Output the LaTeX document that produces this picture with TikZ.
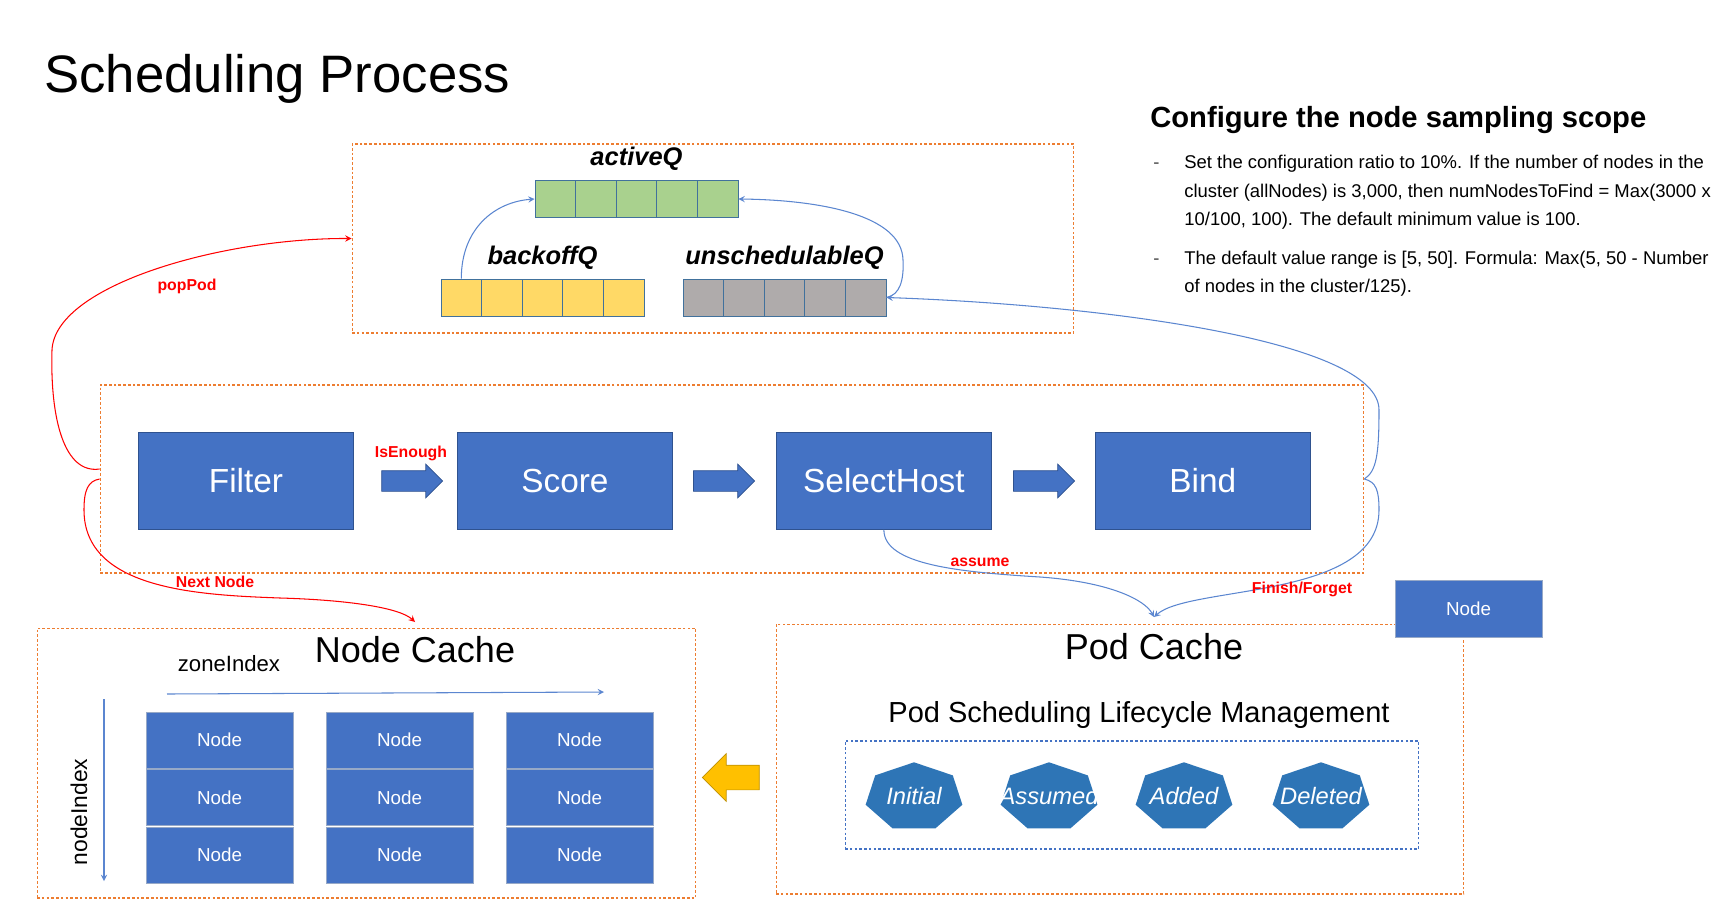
\documentclass[tikz,border=0pt]{standalone}
\usepackage{fontspec}
\setmainfont{Liberation Sans}
\usetikzlibrary{positioning,shapes.arrows}

\definecolor{boxblue}{HTML}{4472C4}
\definecolor{boxedge}{HTML}{2F528F}
\definecolor{heptblue}{HTML}{2E75B6}
\definecolor{dashor}{HTML}{ED7D31}
\definecolor{qgreen}{HTML}{A9D18E}
\definecolor{qyellow}{HTML}{FFD966}
\definecolor{qgrey}{HTML}{AFABAB}
\definecolor{qedge}{HTML}{41719C}
\definecolor{arrowyel}{HTML}{FFC000}
\definecolor{arrowedge}{HTML}{BF9000}
\definecolor{linkblue}{HTML}{5B86D0}

\begin{document}
\begin{tikzpicture}
	[x = 0.02cm, y = 0.02cm, >= stealth, node distance = 6.38cm, on grid,
	 stage/.style = {draw = boxedge, line width = 0.5pt, fill = boxblue, text = white,
		minimum width = 4.3cm, minimum height = 1.94cm, font = \fontsize{19}{23}\selectfont},
	 gridnode/.style = {draw = boxedge!50, line width = 0.5pt, fill = boxblue, text = white,
		minimum width = 2.94cm, minimum height = 1.12cm, font = \fontsize{10.7}{13}\selectfont},
	 cell/.style = {draw = qedge, line width = 0.5pt, minimum width = 0.812cm, minimum height = 0.74cm, inner sep = 0},
	 dashframe/.style = {draw = dashor, line width = 0.6pt, dash pattern = on 1.5pt off 1.2pt, inner sep = 0},
	 qlabel/.style = {font = \fontsize{14.5}{17}\selectfont\bfseries\itshape},
	 redlabel/.style = {text = red, font = \fontsize{9}{11}\selectfont\bfseries},
	 bigtitle/.style = {font = \fontsize{20.5}{24}\selectfont},
	 link/.style = {->, draw = linkblue, line width = 0.6pt},
	 redlink/.style = {->, draw = red, line width = 0.6pt},
	 blockarrow/.style = {single arrow, fill = boxblue, draw = boxedge, line width = 0.4pt, inner sep = 0.2cm,
		minimum height = 1.22cm, minimum width = 0.66cm, single arrow head extend = 0.13cm},
	 hept/.style = {fill = heptblue},
	 heptlbl/.style = {text = white, font = \fontsize{13.5}{16}\selectfont\itshape},
	 cfgtext/.style = {inner sep = 0, align = left, font = \fontsize{10.5}{16.2}\selectfont}]
\useasboundingbox (0,0) rectangle (1727,-906);

\node[inner sep = 0, font = \fontsize{30}{36}\selectfont](title)[anchor = base west] at (44,-92.5){Scheduling Process};

% queues
\node[dashframe, minimum width = 14.44cm, minimum height = 3.78cm](queues) at (713,-238.5){};
\foreach \i in {1,...,5} {
	\node[cell, fill = qgreen](aq_\i) at (535 + 40.6*\i - 20.3, -199){};
	\node[cell, fill = qyellow](bq_\i) at (441 + 40.6*\i - 20.3, -297.5){};
	\node[cell, fill = qgrey](uq_\i) at (683 + 40.6*\i - 20.3, -297.5){};
}
\node[qlabel](activeq)[above = 0.8cm of aq_3]{activeQ};
\node[qlabel](backoffq)[above = 0.79cm of bq_3]{backoffQ};
\node[qlabel](unschedq)[above = 0.79cm of uq_3]{unschedulableQ};

% scheduling flow
\node[dashframe, minimum width = 25.28cm, minimum height = 3.76cm](flow) at (732,-479){};
\node[stage](filter) at (246,-481){Filter};
\node[stage](score)[right = of filter]{Score};
\node[stage](select)[right = of score]{SelectHost};
\node[stage](bind)[right = of select]{Bind};
\node[blockarrow](a_1)[right = 3.22cm of filter]{};
\node[blockarrow](a_2)[right = 3.08cm of score]{};
\node[blockarrow](a_3)[right = 3.1cm of select]{};
\node[redlabel](isenough) at (411,-453){IsEnough};

% node cache
\node[dashframe, minimum width = 13.18cm, minimum height = 5.4cm](ncache) at (366.5,-763){};
\node[bigtitle](nctitle) at (415,-650){Node Cache};
\node[font = \fontsize{12.6}{15}\selectfont](zonelbl) at (229,-664){zoneIndex};
\node[font = \fontsize{13}{15}\selectfont, rotate = 90](nodelbl) at (79,-812){nodeIndex};
\foreach \c in {1,2,3}
	\foreach \r in {1,2,3}
		\node[gridnode](n_\c\r) at (219.5 + 180*\c - 180, -740 - 57.5*\r + 57.5){Node};
\coordinate (z_0) at (167,-694);
\coordinate (z_1) at (604,-692);
\coordinate (r_0) at (104,-699);
\coordinate (r_1) at (104,-881);
\draw[link] (z_0) -- (z_1);
\draw[link] (r_0) -- (r_1);

% pod cache
\node[dashframe, minimum width = 13.76cm, minimum height = 5.4cm](pcache) at (1120,-759){};
\node[bigtitle](pctitle) at (1154,-647){Pod Cache};
\node[font = \fontsize{16.5}{20}\selectfont](pslm) at (1139,-714.5){Pod Scheduling Lifecycle Management};
\node[draw = boxblue, line width = 0.6pt, dash pattern = on 1.5pt off 1.2pt, minimum width = 11.48cm, minimum height = 2.16cm](states) at (1132,-795){};
\foreach \x/\nm/\lbl in {914/s_1/Initial, 1049/s_2/Assumed, 1184/s_3/Added, 1321/s_4/Deleted} {
	\fill[hept, shift = {(\x,-797)}, xscale = 1.43] (90:34.7) \foreach \k in {1,...,6} { -- (90 + \k*360/7:34.7) } -- cycle;
	\node[heptlbl](\nm) at (\x,-796){\lbl};
}
\node[gridnode, minimum height = 1.14cm](node)[anchor = center] at (1468.5,-608.5){Node};
\node[blockarrow, fill = arrowyel, draw = arrowedge, shape border rotate = 180, inner sep = 0.24cm,
	minimum height = 1.14cm, minimum width = 0.94cm, single arrow head extend = 0.23cm](back) at (737,-777.5){};

% sampling scope text
\node[inner sep = 0, font = \fontsize{16.6}{20}\selectfont\bfseries](cfg)[anchor = base west] at (1150,-127.5){Configure the node sampling scope};
\node[cfgtext, text = black!70](dash_1)[anchor = base west] at (1153,-168.5){-};
\node[cfgtext](item_1)[anchor = base west] at (1184,-225.5){Set the configuration ratio to 10\%. If the number of nodes in the\\cluster (allNodes) is 3,000, then numNodesToFind = Max(3000 x\\10/100, 100). The default minimum value is 100.};
\node[cfgtext, text = black!70](dash_2)[anchor = base west] at (1153,-264){-};
\node[cfgtext](item_2)[anchor = base west] at (1184,-292.5){The default value range is [5, 50]. Formula: Max(5, 50 - Number\\of nodes in the cluster/125).};

% connectors
\coordinate (nc_in) at (415,-622);
\coordinate (pc_in) at (1154,-617);
\draw[link] (bq_1.north) .. controls +(0,50) and +(-40,-3) .. (aq_1.west);
\draw[link] (uq_5.east) .. controls (900,-295) and (904,-280) .. (903,-260)
	.. controls (902,-215) and (820,-200) .. (aq_5.east);
\draw[redlink] ([yshift = 0.2cm]flow.west) .. controls +(-35,-5) and (50,-420) .. (52,-350)
	.. controls (55,-285) and (222,-238) .. (queues.west);
\draw[redlink] (flow.west) .. controls (88,-481) and (84,-490) .. (84,-510)
	.. controls (84,-590) and (200,-595) .. (280,-598)
	.. controls (350,-600) and (400,-608) .. (nc_in);
\draw[link] (flow.east) .. controls +(12,8) and (1379,-455) .. (1379,-410)
	.. controls (1379,-340) and (1100,-305) .. (uq_5.east);
\draw[link] (flow.east) .. controls (1376,-482) and (1379,-490) .. (1379,-510)
	.. controls (1379,-600) and (1190,-585) .. (pc_in);
\draw[link] (select.south) .. controls (884,-565) and (960,-572) .. (1040,-577)
	.. controls (1110,-582) and (1145,-600) .. (pc_in);
\node[redlabel](poppod) at (187,-286){popPod};
\node[redlabel](nextnode) at (215,-582){Next Node};
\node[redlabel](assume) at (980,-562){assume};
\node[redlabel](finish) at (1302,-589){Finish/Forget};
\end{tikzpicture}
\end{document}
